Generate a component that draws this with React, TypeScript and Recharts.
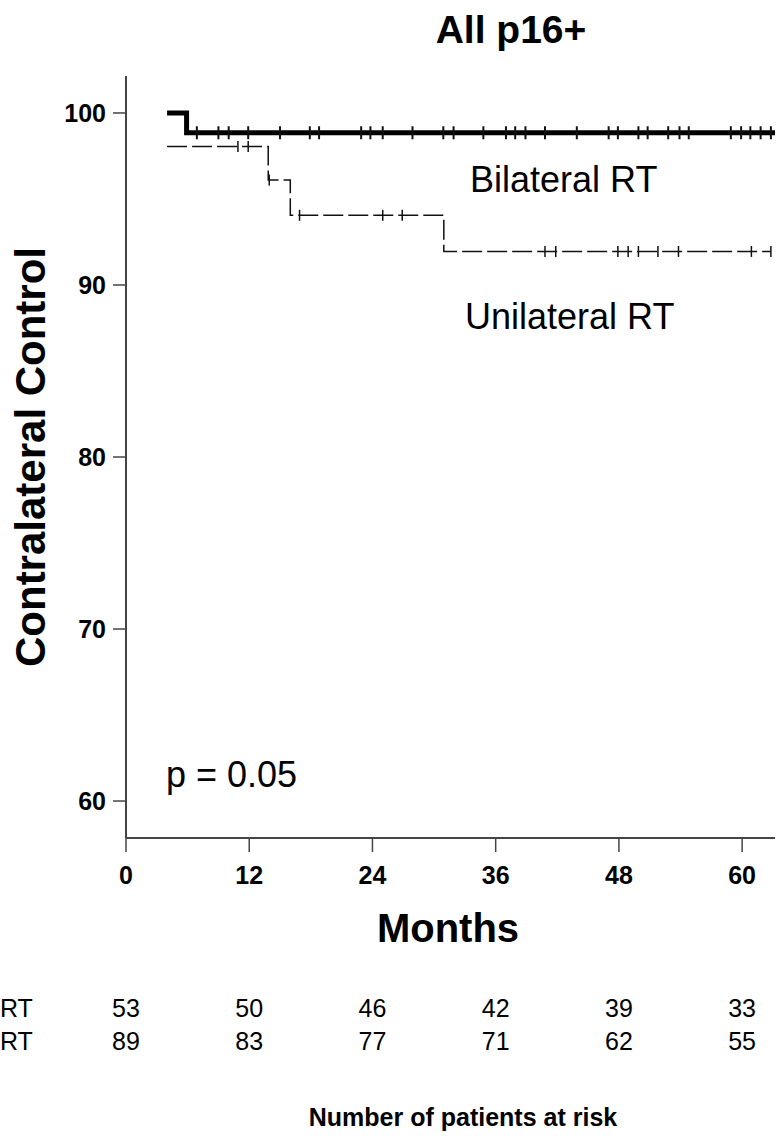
import React from "react";
import { ComposedChart, Line, XAxis, YAxis } from "recharts";

const FONT = "'Liberation Sans', Arial, Helvetica, sans-serif";

const monthTicks = [0, 12, 24, 36, 48, 60];
const controlTicks = [60, 70, 80, 90, 100];

const bilateralStepTimes = [4, 5.9, 63.2];
const bilateralStepValues = [100, 98.85, 98.85];
const bilateralCensorTimes = [
  6.9, 9.0, 10.0, 11.9, 15.0, 17.9, 18.8, 22.9, 23.8, 25.0, 27.9, 30.9, 31.9, 34.8,
  37.0, 37.9, 38.9, 40.8, 43.9, 47.0, 47.9, 49.9, 50.8, 52.8, 53.9, 54.8, 58.9,
  59.9, 60.8, 61.8, 62.8,
];

const unilateralStepTimes = [4, 13.85, 16.0, 30.95, 62.8];
const unilateralStepValues = [98.05, 96.1, 94.05, 91.95, 91.95];
const unilateralCensorTimes = [
  10.9, 11.9, 13.95, 16.9, 25.0, 26.9, 40.8, 41.85, 47.9, 48.9, 49.9, 51.8, 53.8,
  60.9, 62.8,
];

const riskBilateral = [53, 50, 46, 42, 39, 33];
const riskUnilateral = [89, 83, 77, 71, 62, 55];

type Pt = { t: number; s: number; c: boolean };

function buildSeries(stepT: number[], stepV: number[], censorT: number[]): Pt[] {
  const pts: Pt[] = stepT.map((t, i) => ({ t, s: stepV[i], c: false }));
  censorT.forEach((t) => {
    let v = stepV[0];
    for (let i = 0; i < stepT.length; i++) if (stepT[i] <= t) v = stepV[i];
    pts.push({ t, s: v, c: true });
  });
  pts.sort((a, b) => a.t - b.t || (a.c ? 1 : -1));
  return pts;
}

const bilateralData = buildSeries(bilateralStepTimes, bilateralStepValues, bilateralCensorTimes);
const unilateralData = buildSeries(unilateralStepTimes, unilateralStepValues, unilateralCensorTimes);

const censorDot = (half: number, w: number) => (props: any) => {
  const { cx, cy, payload, index } = props;
  if (!payload || !payload.c || cx == null || cy == null) return <g key={`e${index}`} />;
  return (
    <line
      key={`c${index}`}
      x1={cx}
      x2={cx}
      y1={cy - half}
      y2={cy + half}
      stroke="#111"
      strokeWidth={w}
    />
  );
};

const MonthTick = (props: any) => {
  const { x, y, payload } = props;
  const idx = monthTicks.indexOf(payload.value);
  return (
    <g>
      <text x={x} y={y + 32} textAnchor="middle" fontFamily={FONT} fontSize={25} fontWeight="bold" fill="#000">
        {payload.value}
      </text>
      {idx >= 0 && (
        <>
          <text x={x} y={y + 165} textAnchor="middle" fontFamily={FONT} fontSize={25} fill="#000">
            {riskBilateral[idx]}
          </text>
          <text x={x} y={y + 198} textAnchor="middle" fontFamily={FONT} fontSize={25} fill="#000">
            {riskUnilateral[idx]}
          </text>
        </>
      )}
    </g>
  );
};

export default function App() {
  return (
    <div style={{ position: "absolute", left: 0, top: 0, width: 776, height: 1140, background: "#fff" }}>
      <ComposedChart
        width={776}
        height={1140}
        margin={{ top: 76, right: 1, bottom: 0, left: 66 }}
      >
        <XAxis
          type="number"
          dataKey="t"
          domain={[0, 63.2]}
          ticks={monthTicks}
          allowDataOverflow
          height={302}
          tickSize={14}
          tickMargin={0}
          axisLine={{ stroke: "#444", strokeWidth: 2 }}
          tickLine={{ stroke: "#444", strokeWidth: 1.5 }}
          tick={<MonthTick />}
          interval={0}
        />
        <YAxis
          type="number"
          domain={[57.85, 102.15]}
          ticks={controlTicks}
          allowDataOverflow
          width={60}
          tickSize={13}
          tickMargin={7}
          axisLine={{ stroke: "#444", strokeWidth: 2 }}
          tickLine={{ stroke: "#444", strokeWidth: 1.5 }}
          tick={{ fill: "#000", fontSize: 25, fontWeight: "bold", fontFamily: FONT }}
          interval={0}
        />
        <Line
          data={unilateralData}
          dataKey="s"
          type="stepAfter"
          stroke="#111"
          strokeWidth={1.5}
          strokeDasharray="20 5"
          dot={censorDot(5.5, 1.5)}
          activeDot={false}
          isAnimationActive={false}
        />
        <Line
          data={bilateralData}
          dataKey="s"
          type="stepAfter"
          stroke="#000"
          strokeWidth={5}
          dot={censorDot(6.5, 2)}
          activeDot={false}
          isAnimationActive={false}
        />
      </ComposedChart>
      <svg
        width={776}
        height={1140}
        style={{ position: "absolute", left: 0, top: 0, pointerEvents: "none" }}
      >
        <g fontFamily={FONT} fill="#000">
          <text x={511} y={43} textAnchor="middle" fontSize={39} fontWeight="bold">All p16+</text>
          <text transform="translate(45, 457) rotate(-90)" textAnchor="middle" fontSize={42} fontWeight="bold">
            Contralateral Control
          </text>
          <text x={470} y={192} fontSize={36}>Bilateral RT</text>
          <text x={465} y={329} fontSize={36}>Unilateral RT</text>
          <text x={166} y={787} fontSize={36}>p = 0.05</text>
          <text x={448} y={942} textAnchor="middle" fontSize={40} fontWeight="bold">Months</text>
          <text x={0} y={1017} fontSize={25}>RT</text>
          <text x={0} y={1050} fontSize={25}>RT</text>
          <text x={463} y={1126} textAnchor="middle" fontSize={25} fontWeight="bold">
            Number of patients at risk
          </text>
        </g>
      </svg>
    </div>
  );
}
